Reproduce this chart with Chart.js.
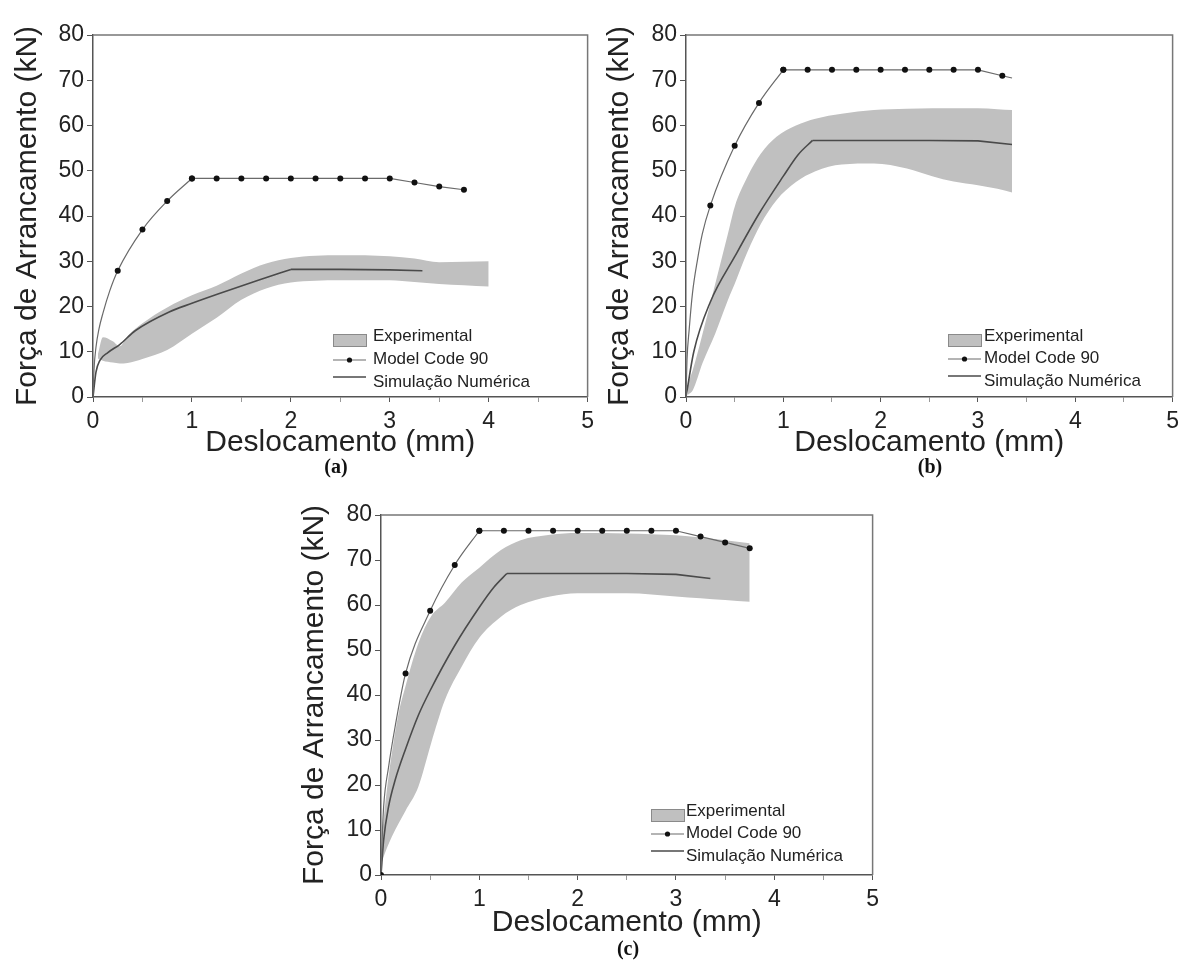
<!DOCTYPE html>
<html>
<head>
<meta charset="utf-8">
<script src="https://cdn.jsdelivr.net/npm/chart.js@4"></script>
<style>
  html, body { margin: 0; padding: 0; background: #fff; }
  body { width: 1185px; height: 960px; position: relative; overflow: hidden; }
  canvas { position: absolute; }
  .cap { position: absolute; font: bold 20px "Liberation Serif", "Times New Roman", serif; color: #111; transform: translate(-50%, -50%); }
</style>
</head>
<body>
<canvas id="chart-a" width="600" height="480" style="left:0;top:0"></canvas>
<canvas id="chart-b" width="590" height="480" style="left:595px;top:0"></canvas>
<canvas id="chart-c" width="600" height="480" style="left:285px;top:480px"></canvas>
<div class="cap" style="left:336px;top:466px">(a)</div>
<div class="cap" style="left:930px;top:466px">(b)</div>
<div class="cap" style="left:628px;top:948px">(c)</div>
<script>
// ---- (a) ----
const mcRiseDispA = [0, 0.01, 0.03, 0.06, 0.1, 0.17, 0.25, 0.5, 0.75, 1.0];
const mcRiseForceA = [0, 6, 11, 15, 18.5, 23.5, 27.9, 37.0, 43.3, 48.3];
const mcFlatDispA = [1.0, 1.25, 1.5, 1.75, 2.0, 2.25, 2.5, 2.75, 3.0, 3.25, 3.5, 3.75];
const mcFlatForceA = [48.3, 48.3, 48.3, 48.3, 48.3, 48.3, 48.3, 48.3, 48.3, 47.4, 46.5, 45.8];
const mcMarksA = [0.25, 0.5, 0.75, 1.0, 1.25, 1.5, 1.75, 2.0, 2.25, 2.5, 2.75, 3.0, 3.25, 3.5, 3.75];
const simRiseDispA = [0, 0.03, 0.07, 0.15, 0.27, 0.43, 0.77, 1.0, 1.27, 1.67, 2.0];
const simRiseForceA = [0, 5.5, 8.1, 9.8, 11.6, 14.7, 18.8, 20.7, 22.8, 25.8, 28.2];
const simFlatDispA = [2.0, 2.5, 3.0, 3.33];
const simFlatForceA = [28.2, 28.2, 28.1, 27.9];
const expDispA = [0.05, 0.1, 0.2, 0.27, 0.35, 0.5, 0.75, 1.0, 1.25, 1.5, 1.75, 2.0, 2.25, 2.5, 3.0, 3.25, 3.5, 3.75, 4.0];
const expUpperA = [9.5, 13.2, 12.3, 11.2, 13.5, 16.3, 19.8, 22.5, 24.6, 27.3, 29.5, 30.7, 31.2, 31.3, 31.1, 30.6, 29.8, 29.9, 30.0];
const expLowerA = [8.5, 8.0, 7.6, 7.4, 7.5, 8.4, 10.4, 14.0, 17.5, 21.5, 24.0, 25.3, 25.7, 25.8, 25.8, 25.4, 25.0, 24.7, 24.4];

// ---- (b) ----
const mcRiseDispB = [0, 0.01, 0.033, 0.067, 0.117, 0.167, 0.25, 0.5, 0.75, 1.0];
const mcRiseForceB = [0, 8, 15, 23, 30.2, 36, 42.3, 55.5, 65.0, 72.3];
const mcFlatDispB = [1.0, 1.25, 1.5, 1.75, 2.0, 2.25, 2.5, 2.75, 3.0, 3.25, 3.35];
const mcFlatForceB = [72.3, 72.3, 72.3, 72.3, 72.3, 72.3, 72.3, 72.3, 72.3, 71.0, 70.5];
const mcMarksB = [0.25, 0.5, 0.75, 1.0, 1.25, 1.5, 1.75, 2.0, 2.25, 2.5, 2.75, 3.0, 3.25];
const simRiseDispB = [0, 0.08, 0.25, 0.5, 0.75, 1.0, 1.15, 1.3];
const simRiseForceB = [0, 10, 21, 31, 40.5, 48.8, 53.5, 56.7];
const simFlatDispB = [1.3, 2.0, 2.5, 3.0, 3.35];
const simFlatForceB = [56.7, 56.7, 56.7, 56.6, 55.8];
const expDispB = [0.02, 0.07, 0.17, 0.3, 0.43, 0.5, 0.63, 0.77, 0.93, 1.13, 1.33, 1.6, 1.93, 2.27, 2.53, 2.75, 3.0, 3.2, 3.35];
const expUpperB = [3, 6, 14, 25, 36, 42, 48.6, 53.8, 57.5, 60, 61.5, 62.6, 63.4, 63.7, 63.8, 63.8, 63.8, 63.6, 63.4];
const expLowerB = [0.5, 1.5, 7.5, 14, 21.4, 25, 32, 38.3, 43.5, 47.5, 49.9, 51.4, 51.6, 50.5, 48.8, 47.6, 46.8, 46, 45.2];

// ---- (c) ----
const mcRiseDispC = [0, 0.01, 0.027, 0.077, 0.144, 0.25, 0.5, 0.75, 1.0];
const mcRiseForceC = [0, 7, 15.2, 24, 33, 44.8, 58.7, 68.9, 76.5];
const mcFlatDispC = [1.0, 1.25, 1.5, 1.75, 2.0, 2.25, 2.5, 2.75, 3.0, 3.25, 3.5, 3.75];
const mcFlatForceC = [76.5, 76.5, 76.5, 76.5, 76.5, 76.5, 76.5, 76.5, 76.5, 75.2, 73.9, 72.6];
const mcMarksC = [0, 0.25, 0.5, 0.75, 1.0, 1.25, 1.5, 1.75, 2.0, 2.25, 2.5, 2.75, 3.0, 3.25, 3.5, 3.75];
const simRiseDispC = [0, 0.027, 0.077, 0.144, 0.25, 0.38, 0.5, 0.75, 1.0, 1.15, 1.28];
const simRiseForceC = [0, 7.8, 15.2, 21.1, 28, 35.5, 41, 51, 59.5, 64, 67];
const simFlatDispC = [1.28, 2.0, 2.5, 3.0, 3.35];
const simFlatForceC = [67, 67, 67, 66.8, 65.9];
const expDispC = [0.01, 0.06, 0.11, 0.18, 0.25, 0.38, 0.51, 0.65, 0.82, 1.0, 1.22, 1.42, 1.72, 2.0, 2.5, 3.0, 3.25, 3.5, 3.75];
const expUpperC = [9, 19, 27, 36, 42, 51.5, 57.5, 60.5, 65, 68.3, 72.2, 74.4, 75.6, 76.0, 75.9, 75.5, 75.0, 74.4, 73.7];
const expLowerC = [3, 6, 8.5, 11.5, 14.3, 19.6, 29.3, 38.9, 46.3, 52.7, 57.4, 60, 61.9, 62.6, 62.6, 61.9, 61.5, 61.1, 60.7];

// shared axis / legend text
const xTitle = 'Deslocamento (mm)';
const yTitle = 'Força de Arrancamento (kN)';
const legendLabels = ['Experimental', 'Model Code 90', 'Simulação Numérica'];

const BAND = '#c0c0c0';
const MC_LINE = '#6a6a6a';
const SIM_LINE = '#4a4a4a';
const FONT = '"Liberation Sans", Arial, sans-serif';

const pts = (xs, ys) => xs.map((x, i) => ({ x, y: ys[i] }));

// plot frame (top + right lines)
const framePlugin = {
    id: 'frame',
    beforeDatasetsDraw(chart) {
        const { ctx, chartArea: a } = chart;
        ctx.save();
        ctx.strokeStyle = '#777';
        ctx.lineWidth = 1.5;
        ctx.beginPath();
        ctx.moveTo(a.left, a.top);
        ctx.lineTo(a.right, a.top);
        ctx.lineTo(a.right, a.bottom);
        ctx.stroke();
        ctx.restore();
    }
};

// legend drawn inside the plot, bottom right
const insetLegend = {
    id: 'insetLegend',
    afterDatasetsDraw(chart, args, opts) {
        const { ctx, chartArea: a } = chart;
        const x0 = a.left + opts.dx;
        const tx = a.left + opts.textDx;
        const [r1, r2, r3] = opts.rows.map(r => a.bottom + r);
        const w = 33;
        ctx.save();
        // Experimental: grey box
        ctx.fillStyle = BAND;
        ctx.fillRect(x0, r1 - 2, w, 12);
        ctx.strokeStyle = '#8a8a8a';
        ctx.lineWidth = 1;
        ctx.strokeRect(x0 + 0.5, r1 - 1.5, w, 12);
        // Model Code 90: line + dot
        ctx.strokeStyle = MC_LINE;
        ctx.lineWidth = 1.2;
        ctx.beginPath();
        ctx.moveTo(x0, r2 + 1);
        ctx.lineTo(x0 + w, r2 + 1);
        ctx.stroke();
        ctx.fillStyle = '#111';
        ctx.beginPath();
        ctx.arc(x0 + w / 2, r2 + 1, 2.6, 0, Math.PI * 2);
        ctx.fill();
        // Simulação: plain line
        ctx.strokeStyle = SIM_LINE;
        ctx.lineWidth = 1.6;
        ctx.beginPath();
        ctx.moveTo(x0, r3 - 5);
        ctx.lineTo(x0 + w, r3 - 5);
        ctx.stroke();
        // labels
        ctx.fillStyle = '#222';
        ctx.font = '17px ' + FONT;
        ctx.textBaseline = 'middle';
        ctx.fillText(legendLabels[0], tx, r1);
        ctx.fillText(legendLabels[1], tx, r2);
        ctx.fillText(legendLabels[2], tx, r3);
        ctx.restore();
    }
};

function makePanel(id, d, layout) {
    const markSet = d.marks;
    const datasets = [
        {
            data: pts(d.mcRiseX, d.mcRiseY),
            borderColor: MC_LINE, borderWidth: 1.2,
            cubicInterpolationMode: 'monotone',
            pointRadius: c => markSet.includes(c.raw.x) ? 3 : 0,
            pointBackgroundColor: '#111', pointBorderWidth: 0
        },
        {
            data: pts(d.mcFlatX, d.mcFlatY),
            borderColor: MC_LINE, borderWidth: 1.2, tension: 0,
            pointRadius: c => markSet.includes(c.raw.x) ? 3 : 0,
            pointBackgroundColor: '#111', pointBorderWidth: 0
        },
        {
            data: pts(d.simRiseX, d.simRiseY),
            borderColor: SIM_LINE, borderWidth: 1.6,
            cubicInterpolationMode: 'monotone', pointRadius: 0
        },
        {
            data: pts(d.simFlatX, d.simFlatY),
            borderColor: SIM_LINE, borderWidth: 1.6, tension: 0, pointRadius: 0
        },
        {
            data: pts(d.expX, d.expHi),
            borderWidth: 0, pointRadius: 0, cubicInterpolationMode: 'monotone',
            backgroundColor: BAND, fill: '+1'
        },
        {
            data: pts(d.expX, d.expLo),
            borderWidth: 0, pointRadius: 0, cubicInterpolationMode: 'monotone',
            fill: false
        }
    ];

    return new Chart(document.getElementById(id), {
        type: 'line',
        data: { datasets },
        plugins: [framePlugin, insetLegend],
        options: {
            responsive: false,
            animation: false,
            events: [],
            layout: { padding: { left: 0, top: layout.top, right: layout.right, bottom: 0 } },
            plugins: {
                legend: { display: false },
                tooltip: { enabled: false },
                insetLegend: layout.legend
            },
            scales: {
                x: {
                    type: 'linear', min: 0, max: 5,
                    afterFit: s => { s.height = layout.xAxisH; },
                    border: { display: true, color: '#555', width: 1.5 },
                    grid: {
                        drawOnChartArea: false, tickLength: 5,
                        tickColor: c => Number.isInteger(c.tick.value) ? '#555' : '#999'
                    },
                    ticks: {
                        stepSize: 0.5, padding: 6, color: '#222', maxRotation: 0,
                        font: { size: 23, family: FONT },
                        callback: v => Number.isInteger(v) ? v : ''
                    },
                    title: {
                        display: true, text: xTitle, color: '#222',
                        font: { size: 30, family: FONT },
                        padding: { top: 0, bottom: 19 }
                    }
                },
                y: {
                    min: 0, max: 80,
                    afterFit: s => { s.width = layout.yAxisW; },
                    border: { display: true, color: '#555', width: 1.5 },
                    grid: {
                        drawOnChartArea: false, tickLength: 6,
                        tickColor: c => c.tick.value % 10 === 0 ? '#555' : '#999'
                    },
                    ticks: {
                        stepSize: 5, padding: 3, color: '#222',
                        font: { size: 23, family: FONT },
                        callback: v => v % 10 === 0 ? v : ''
                    },
                    title: {
                        display: true, text: yTitle, color: '#222',
                        font: { size: 30, family: FONT },
                        padding: { top: layout.yTitlePad, bottom: 0 }
                    }
                }
            }
        }
    });
}

makePanel('chart-a', {
    mcRiseX: mcRiseDispA, mcRiseY: mcRiseForceA, mcFlatX: mcFlatDispA, mcFlatY: mcFlatForceA, marks: mcMarksA,
    simRiseX: simRiseDispA, simRiseY: simRiseForceA, simFlatX: simFlatDispA, simFlatY: simFlatForceA,
    expX: expDispA, expHi: expUpperA, expLo: expLowerA
}, { top: 35, right: 12, xAxisH: 83, yAxisW: 93, yTitlePad: 10,
     legend: { dx: 240, textDx: 280, rows: [-61, -38, -15] } });

makePanel('chart-b', {
    mcRiseX: mcRiseDispB, mcRiseY: mcRiseForceB, mcFlatX: mcFlatDispB, mcFlatY: mcFlatForceB, marks: mcMarksB,
    simRiseX: simRiseDispB, simRiseY: simRiseForceB, simFlatX: simFlatDispB, simFlatY: simFlatForceB,
    expX: expDispB, expHi: expUpperB, expLo: expLowerB
}, { top: 35, right: 4, xAxisH: 83, yAxisW: 91, yTitlePad: 7,
     legend: { dx: 262, textDx: 298, rows: [-61, -39, -16] } });

makePanel('chart-c', {
    mcRiseX: mcRiseDispC, mcRiseY: mcRiseForceC, mcFlatX: mcFlatDispC, mcFlatY: mcFlatForceC, marks: mcMarksC,
    simRiseX: simRiseDispC, simRiseY: simRiseForceC, simFlatX: simFlatDispC, simFlatY: simFlatForceC,
    expX: expDispC, expHi: expUpperC, expLo: expLowerC
}, { top: 35, right: 9, xAxisH: 85, yAxisW: 96, yTitlePad: 12,
     legend: { dx: 270, textDx: 305, rows: [-64, -42, -19] } });
</script>
</body>
</html>
